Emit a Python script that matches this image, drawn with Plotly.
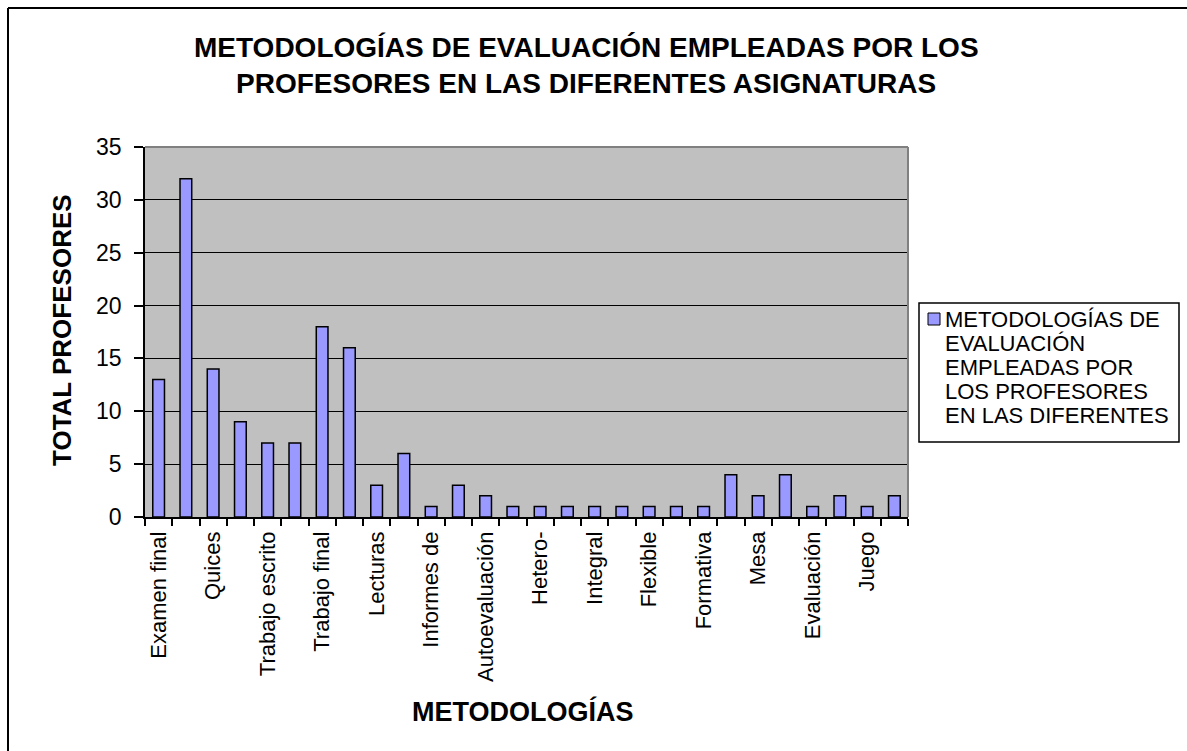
import plotly.graph_objects as go

# ---- data ----
values = [13, 32, 14, 9, 7, 7, 18, 16, 3, 6, 1, 3, 2, 1,
          1, 1, 1, 1, 1, 1, 1, 4, 2, 4, 1, 2, 1, 2]
# only every second category label is shown in the original chart
shown_labels = ["Examen final", "Quices", "Trabajo escrito", "Trabajo final",
                "Lecturas", "Informes de", "Autoevaluación", "Hetero-",
                "Integral", "Flexible", "Formativa", "Mesa", "Evaluación", "Juego"]
legend_lines = ["METODOLOGÍAS DE", "EVALUACIÓN", "EMPLEADAS POR",
                "LOS PROFESORES", "EN LAS DIFERENTES"]
title_lines = ["METODOLOGÍAS DE EVALUACIÓN EMPLEADAS POR LOS",
               "PROFESORES EN LAS DIFERENTES ASIGNATURAS"]
x_title = "METODOLOGÍAS"
y_title = "TOTAL PROFESORES"

x_idx = list(range(len(values)))
tick_positions = x_idx[::2]

FONT = "Liberation Sans, Arial, sans-serif"
BAR = "#9999FF"

# pixel helpers for layout decorations (plot area 145..908 x, 147..517 y)
L, R, T, B = 145, 908, 147, 517
W, H = 1187, 751
def px(x):
    return (x - L) / (R - L)
def py(y):
    return (B - y) / (B - T)

fig = go.Figure()
fig.add_trace(go.Bar(
    x=x_idx, y=values, width=0.43,
    marker=dict(color=BAR, line=dict(color="black", width=1.5)),
    name=" ".join(legend_lines), showlegend=False,
))

fig.update_layout(
    width=W, height=H,
    margin=dict(l=L, r=W - R, t=T, b=H - B, pad=0),
    paper_bgcolor="white", plot_bgcolor="#C0C0C0",
    font=dict(family=FONT, color="black"),
    xaxis=dict(
        range=[-0.5, len(values) - 0.5],
        tickvals=tick_positions, ticktext=shown_labels,
        tickangle=-90, tickfont=dict(size=22, family=FONT),
        ticks="", showgrid=False, zeroline=False,
        showline=True, linecolor="black", linewidth=1.5,
        ticklabelstandoff=4,
        minor=dict(ticks="outside", tick0=-0.5, dtick=1, ticklen=7,
                   tickcolor="black", tickwidth=1.5, showgrid=False),
    ),
    yaxis=dict(
        range=[0, 35], dtick=5, tick0=0,
        tickfont=dict(size=23, family=FONT),
        ticks="outside", ticklen=9, tickcolor="black", tickwidth=1.5,
        showgrid=True, gridcolor="black", gridwidth=1.2,
        zeroline=False, showline=True, linecolor="black", linewidth=1.5,
        ticklabelstandoff=8,
    ),
)

shapes = [
    # plot-area top and right edge (grey)
    dict(type="line", xref="x domain", yref="y domain", x0=0, x1=1, y0=1, y1=1,
         line=dict(color="#808080", width=2)),
    dict(type="line", xref="x domain", yref="y domain", x0=1, x1=1, y0=0, y1=1,
         line=dict(color="#808080", width=2)),
    # outer chart border (top and left visible)
    dict(type="line", xref="paper", yref="paper", x0=px(8), x1=px(W + 5),
         y0=py(8), y1=py(8), line=dict(color="black", width=2)),
    dict(type="line", xref="paper", yref="paper", x0=px(8), x1=px(8),
         y0=py(8), y1=py(H + 5), line=dict(color="black", width=2)),
    # legend box
    dict(type="rect", xref="paper", yref="paper", x0=px(919), x1=px(1179),
         y0=py(303), y1=py(442), line=dict(color="black", width=1.5),
         fillcolor="white"),
    # legend swatch
    dict(type="rect", xref="paper", yref="paper", x0=px(928), x1=px(940),
         y0=py(313), y1=py(325), line=dict(color="black", width=1),
         fillcolor=BAR),
]
fig.update_layout(shapes=shapes)

annotations = [
    dict(text="<b>%s</b>" % title_lines[0], x=px(586), y=py(47), xref="paper", yref="paper",
         xanchor="center", yanchor="middle", showarrow=False,
         font=dict(size=28, family=FONT)),
    dict(text="<b>%s</b>" % title_lines[1], x=px(586), y=py(83), xref="paper", yref="paper",
         xanchor="center", yanchor="middle", showarrow=False,
         font=dict(size=28, family=FONT)),
    dict(text="<b>%s</b>" % y_title, x=px(62), y=py(330), xref="paper", yref="paper",
         xanchor="center", yanchor="middle", textangle=-90, showarrow=False,
         font=dict(size=26, family=FONT)),
    dict(text="<b>%s</b>" % x_title, x=px(523), y=py(711), xref="paper", yref="paper",
         xanchor="center", yanchor="middle", showarrow=False,
         font=dict(size=27, family=FONT)),
]
for i, line in enumerate(legend_lines):
    annotations.append(dict(
        text=line, x=px(943), y=py(319 + 24 * i), xref="paper", yref="paper",
        xanchor="left", yanchor="middle", showarrow=False,
        font=dict(size=22, family=FONT)))
fig.update_layout(annotations=annotations)

fig.write_html("out.html", config={"displayModeBar": False},
               post_script="document.body.style.margin='0';")
